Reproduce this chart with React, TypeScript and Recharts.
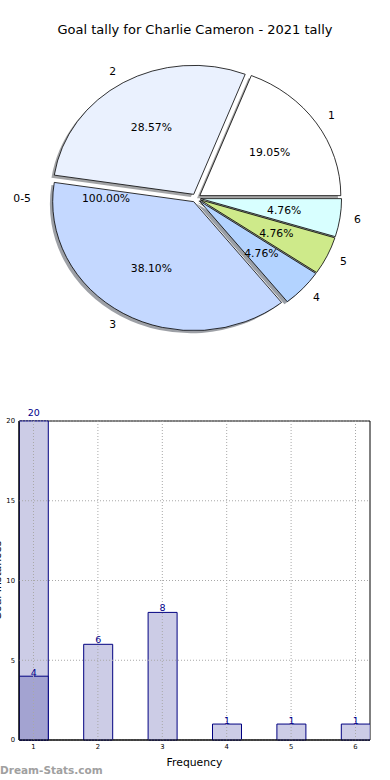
import React from 'react';
import {
  PieChart,
  Pie,
  Sector,
  BarChart,
  Bar,
  XAxis,
  YAxis,
  LabelList,
  ReferenceArea,
  ReferenceLine,
} from 'recharts';

// ---------- data ----------
const sliceNames = ['1', '2', '3', '4', '5', '6'];
const sliceValues = [4, 6, 8, 1, 1, 1];
const sliceColors = ['#ffffff', '#eaf1fe', '#c4d8ff', '#b3d3ff', '#ceea8a', '#d8ffff'];
const totalNames = ['0-5'];
const totalValues = [21];

const freqCategories = [1, 2, 3, 4, 5, 6];
const allBarValues = [20, 6, 8, 1, 1, 1];
const firstBarValues: (number | null)[] = [4, null, null, null, null, null];
const yTicks = [0, 5, 10, 15, 20];
const xDomain: [number, number] = [0.775, 6.225];

const pieData = sliceNames.map((name, i) => ({ name, value: sliceValues[i], color: sliceColors[i] }));
const totalData = totalNames.map((name, i) => ({ name, value: totalValues[i] }));
const barData = freqCategories.map((f, i) => ({ freq: f, all: allBarValues[i], first: firstBarValues[i] }));

// ---------- styling ----------
const FONT = '"DejaVu Sans", sans-serif';
const CX = 196;
const CY = 198;
const R = 141;
const RY = 129 / 141;
const EXPLODE = 4.6;
const SHADOW_DX = -2.8;
const SHADOW_DY = 2.6;
const RAD = Math.PI / 180;

function darken(hex: string, k: number) {
  const n = parseInt(hex.slice(1), 16);
  const r = Math.round(((n >> 16) & 255) * k);
  const g = Math.round(((n >> 8) & 255) * k);
  const b = Math.round((n & 255) * k);
  return `rgb(${r},${g},${b})`;
}

function wedge(p: any, fill: string, stroke: string, dx: number, dy: number, opacity = 1) {
  const m = p.midAngle * RAD;
  const ox = EXPLODE * Math.cos(m);
  const oy = -EXPLODE * Math.sin(m);
  return (
    <g transform={`translate(${dx},${dy}) translate(0,${p.cy}) scale(1,${RY}) translate(0,${-p.cy})`}>
      <Sector
        cx={p.cx + ox}
        cy={p.cy + oy}
        innerRadius={0}
        outerRadius={p.outerRadius}
        startAngle={p.startAngle}
        endAngle={p.endAngle}
        fill={fill}
        fillOpacity={opacity}
        stroke={stroke}
        strokeWidth={0.8}
        vectorEffect="non-scaling-stroke"
      />
    </g>
  );
}

function pointAt(p: any, frac: number, explode: number) {
  const m = p.midAngle * RAD;
  const d = explode + frac * p.outerRadius;
  return { x: p.cx + d * Math.cos(m), y: p.cy - d * Math.sin(m) * RY, c: Math.cos(m) };
}

const renderShadow = (p: any) => (
  <g key={`s-${p.index}`}>{wedge(p, darken(sliceColors[p.index], 0.3), 'none', SHADOW_DX, SHADOW_DY, 0.5)}</g>
);

const renderWedge = (p: any) => (
  <g key={`w-${p.index}`}>{wedge(p, sliceColors[p.index], '#000', 0, 0)}</g>
);

const renderTexts = (p: any, explode: number) => {
  const pct = pointAt(p, 0.6, explode);
  const nm = pointAt(p, 1.1, explode);
  return (
    <g key={`t-${p.index}-${p.name}`}>
      <text x={pct.x} y={pct.y} textAnchor="middle" dominantBaseline="central" fontSize={10.8} fontFamily={FONT} fill="#000">
        {`${(p.percent * 100).toFixed(2)}%`}
      </text>
      <text x={nm.x} y={nm.y} textAnchor={nm.c >= 0 ? 'start' : 'end'} dominantBaseline="central" fontSize={10.8} fontFamily={FONT} fill="#000">
        {p.name}
      </text>
    </g>
  );
};

const renderBarLabel = (props: any) => {
  const { x, y, width, value } = props;
  if (value === null || value === undefined) return null;
  const gap = 3 + Number(value) * 0.3;
  return (
    <text x={x + width / 2} y={y - gap} textAnchor="middle" dominantBaseline="central" fontSize={9.5} fontFamily={FONT} fill="#00008b">
      {value}
    </text>
  );
};

const tickStyle = { fontSize: 6.8, fontFamily: FONT, fill: '#000' };

export default function App() {
  return (
    <div style={{ position: 'absolute', left: 0, top: 0, width: 390, height: 780, background: '#fff', overflow: 'hidden' }}>
      <div
        style={{
          position: 'absolute',
          left: 0,
          top: 21,
          width: 390,
          textAlign: 'center',
          fontFamily: FONT,
          fontSize: 13,
          lineHeight: '18px',
          color: '#000',
        }}
      >
        Goal tally for Charlie Cameron - 2021 tally
      </div>

      <div style={{ position: 'absolute', left: 0, top: 0 }}>
        <PieChart width={390} height={400} margin={{ top: 0, right: 0, bottom: 0, left: 0 }}>
          <Pie
            data={pieData}
            dataKey="value"
            nameKey="name"
            cx={CX}
            cy={CY}
            outerRadius={R}
            startAngle={0}
            endAngle={360}
            fill="none"
            stroke="none"
            labelLine={false}
            label={renderShadow}
            isAnimationActive={false}
          />
          <Pie
            data={pieData}
            dataKey="value"
            nameKey="name"
            cx={CX}
            cy={CY}
            outerRadius={R}
            startAngle={0}
            endAngle={360}
            fill="none"
            stroke="none"
            labelLine={false}
            label={renderWedge}
            isAnimationActive={false}
          />
          <Pie
            data={totalData}
            dataKey="value"
            nameKey="name"
            cx={CX}
            cy={CY}
            outerRadius={150}
            startAngle={0}
            endAngle={360}
            fill="none"
            stroke="none"
            labelLine={false}
            label={(p: any) => renderTexts(p, 0)}
            isAnimationActive={false}
          />
          <Pie
            data={pieData}
            dataKey="value"
            nameKey="name"
            cx={CX}
            cy={CY}
            outerRadius={R}
            startAngle={0}
            endAngle={360}
            fill="none"
            stroke="none"
            labelLine={false}
            label={(p: any) => renderTexts(p, EXPLODE)}
            isAnimationActive={false}
          />
        </PieChart>
      </div>

      <div style={{ position: 'absolute', left: 0, top: 400 }}>
        <BarChart width={390} height={380} data={barData} margin={{ top: 21, right: 20, bottom: 10, left: 0 }}>
          <XAxis
            dataKey="freq"
            type="number"
            domain={xDomain}
            allowDataOverflow
            ticks={freqCategories}
            interval={0}
            height={30}
            tickLine={false}
            tickSize={2}
            tickMargin={2}
            axisLine={{ stroke: '#000' }}
            tick={tickStyle}
            label={{ value: 'Frequency', position: 'insideBottom', offset: 4, fontSize: 10.8, fontFamily: FONT, fill: '#000' }}
          />
          <XAxis xAxisId="overlay" dataKey="freq" type="number" domain={xDomain} allowDataOverflow hide />
          <YAxis
            type="number"
            domain={[0, 20]}
            ticks={yTicks}
            interval={0}
            width={19}
            tickLine={false}
            tickSize={2}
            tickMargin={2}
            axisLine={{ stroke: '#000' }}
            tick={tickStyle}
            label={{
              value: 'Goal Instances',
              angle: -90,
              position: 'insideLeft',
              offset: -3,
              textAnchor: 'middle',
              fontSize: 10.8,
              fontFamily: FONT,
              fill: '#000',
            }}
          />
          <Bar dataKey="all" fill="#ccccE6" stroke="#000080" strokeWidth={1} barSize={29} isAnimationActive={false}>
            <LabelList dataKey="all" content={renderBarLabel} />
          </Bar>
          <Bar dataKey="first" xAxisId="overlay" fill="#a3a3d1" stroke="#000080" strokeWidth={1} barSize={29} isAnimationActive={false}>
            <LabelList dataKey="first" content={renderBarLabel} />
          </Bar>
          {freqCategories.map((f) => (
            <ReferenceLine key={`vx-${f}`} x={f} stroke="#a8a8a8" strokeDasharray="1 2" strokeWidth={1} />
          ))}
          {yTicks.map((t) => (
            <ReferenceLine key={`hy-${t}`} y={t} stroke="#a8a8a8" strokeDasharray="1 2" strokeWidth={1} />
          ))}
          <ReferenceArea x1={xDomain[0]} x2={xDomain[1]} y1={0} y2={20} fill="none" stroke="#000" strokeWidth={1} ifOverflow="visible" />
        </BarChart>
      </div>

      <div
        style={{
          position: 'absolute',
          left: 0,
          top: 762,
          fontFamily: FONT,
          fontWeight: 'bold',
          fontSize: 10.5,
          lineHeight: '16px',
          color: '#a0a0a0',
          whiteSpace: 'nowrap',
        }}
      >
        Dream-Stats.com
      </div>
    </div>
  );
}
